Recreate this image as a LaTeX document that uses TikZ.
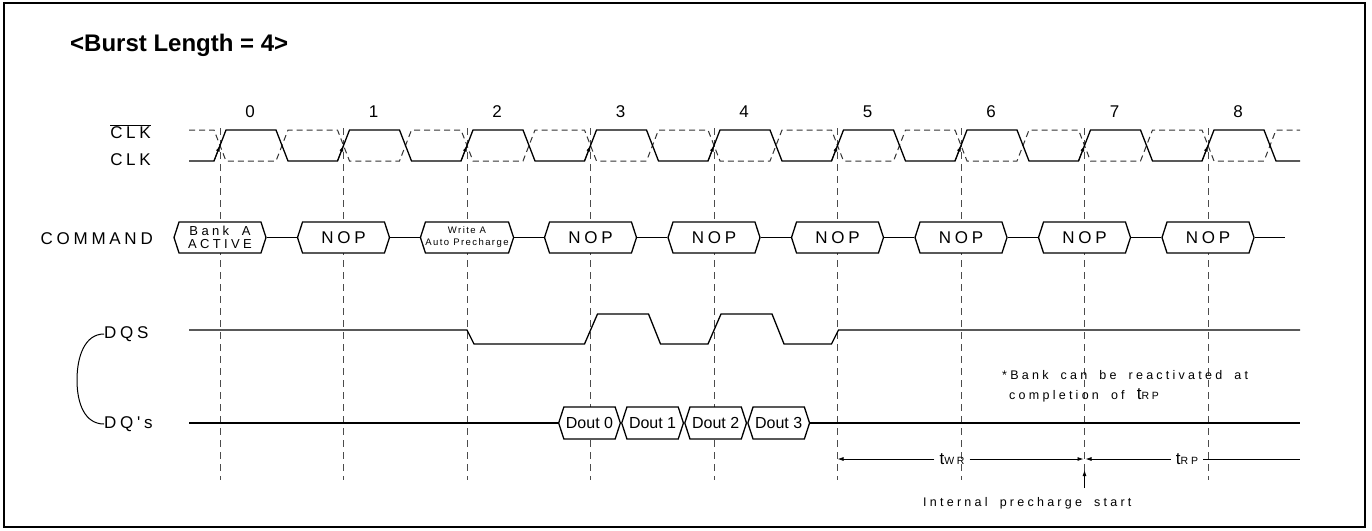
\documentclass[tikz,border=0pt]{standalone}
\usepackage{fontspec}
\setmainfont{Liberation Sans}
\newfontfamily\spaced[LetterSpace=22]{Liberation Sans}
\newfontfamily\spacedsm[LetterSpace=26,WordSpace=1.8]{Liberation Sans}
\newfontfamily\spacedxs[LetterSpace=15]{Liberation Sans}
\usetikzlibrary{arrows.meta,positioning,shapes.symbols}
\tikzset{
  sig/.style={line width=1.3pt, line join=miter},
  clkbar/.style={black!80, line width=1pt, dash pattern=on 6pt off 4pt},
  guide/.style={black!70, line width=0.9pt, dash pattern=on 7pt off 5pt},
  hexbox/.style={draw, fill=white, line width=1.3pt, signal, signal to=east and west,
    signal pointer angle=144, minimum height=31pt, minimum width=92pt, inner sep=0pt, align=center},
  doutbox/.style={hexbox, minimum width=61.7pt, minimum height=32pt, font=\fontsize{16}{16}\selectfont},
  tip/.style={-{Latex[length=6pt,width=4pt]}, line width=0.8pt},
  lbl/.style={font=\spaced\fontsize{17}{17}\selectfont, inner sep=0pt},
  note/.style={font=\spacedsm\fontsize{12.5}{13}\selectfont, inner sep=0pt, anchor=west},
}
\begin{document}
\begin{tikzpicture}[x=1pt,y=1pt,yscale=-1,xscale=1]
\path[use as bounding box] (0,0) rectangle (1372,530);
\draw[line width=1.3pt] (4,3) rectangle (1365,527);

\node[anchor=west, inner sep=0pt, font=\bfseries\fontsize{24}{27}\selectfont] (title) at (70,45) {<Burst Length = 4>};

% clock edges 0..8, period 123.5
\foreach \k in {0,...,8} \draw[guide] ({220+\k*123.5},128) -- ({220+\k*123.5},480);
\foreach \k in {0,...,8} \node[font=\fontsize{17}{17}\selectfont] (num\k) at ({250+\k*123.5},112) {\k};

\draw[clkbar] (189,130) \foreach \k in {0,...,8}{ -- ({214+\k*123.5},130) -- ({226+\k*123.5},161) -- ({276+\k*123.5},161) -- ({288+\k*123.5},130) } -- (1300,130);
\draw[sig] (189,161) \foreach \k in {0,...,8}{ -- ({214+\k*123.5},161) -- ({226+\k*123.5},130) -- ({276+\k*123.5},130) -- ({288+\k*123.5},161) } -- (1300,161);
\foreach \k in {0,...,8} \draw[tip] ({214+\k*123.5},161) -- ({220+\k*123.5},145.5);

\node[lbl, anchor=east] (clkb) at (151,132) {$\overline{\mbox{CLK}}$};
\node[lbl, anchor=east] (clk) at (151,160) {CLK};
\node[lbl, anchor=east] (cmd) at (153,239) {COMMAND};

% command row
\node[hexbox, font=\spacedsm\fontsize{13}{13}\selectfont] (c0) at (220,237.5) {Bank A\\ACTIVE};
\node[hexbox, font=\spaced\fontsize{17}{17}\selectfont] (c1) at (343.5,237.5) {NOP};
\node[hexbox, font=\spacedxs\fontsize{9.5}{12}\selectfont] (c2) at (467,237.5) {Write A\\Auto Precharge};
\node[hexbox, font=\spaced\fontsize{17}{17}\selectfont] (c3) at (590.5,237.5) {NOP};
\node[hexbox, font=\spaced\fontsize{17}{17}\selectfont] (c4) at (714,237.5) {NOP};
\node[hexbox, font=\spaced\fontsize{17}{17}\selectfont] (c5) at (837.5,237.5) {NOP};
\node[hexbox, font=\spaced\fontsize{17}{17}\selectfont] (c6) at (961,237.5) {NOP};
\node[hexbox, font=\spaced\fontsize{17}{17}\selectfont] (c7) at (1084.5,237.5) {NOP};
\node[hexbox, font=\spaced\fontsize{17}{17}\selectfont] (c8) at (1208,237.5) {NOP};
\coordinate (cend) at (1285,237.5);
\draw[sig] (c0.east) -- (c1.west);
\draw[sig] (c1.east) -- (c2.west);
\draw[sig] (c2.east) -- (c3.west);
\draw[sig] (c3.east) -- (c4.west);
\draw[sig] (c4.east) -- (c5.west);
\draw[sig] (c5.east) -- (c6.west);
\draw[sig] (c6.east) -- (c7.west);
\draw[sig] (c7.east) -- (c8.west);
\draw[sig] (c8.east) -- (cend);

% DQS and DQ's
\node[lbl, anchor=west] (dqs) at (104,334) {DQS};
\node[lbl, anchor=west] (dq) at (104,424) {DQ's};
\coordinate (brace) at (77,380);
\draw[line width=1pt] (dqs.west) .. controls (85,334) and (77,356) .. (brace) .. controls (77,404) and (85,424) .. (dq.west);

\draw[sig] (189,330) -- (467,330) -- (474,344) -- (584.5,344) -- (597.5,314) -- (648.5,314) -- (660.5,344)
  -- (708,344) -- (721,314) -- (772,314) -- (784,344) -- (831.5,344) -- (838.5,330) -- (1300,330);

\node[doutbox] (d0) at (589.5,423) {Dout 0};
\node[doutbox, right=0pt of d0] (d1) {Dout 1};
\node[doutbox, right=0pt of d1] (d2) {Dout 2};
\node[doutbox, right=0pt of d2] (d3) {Dout 3};
\coordinate (dqa) at (189,423);
\coordinate (dqb) at (1300,423);
\draw[sig] (dqa) -- (d0.west);
\draw[sig] (d3.east) -- (dqb);

% timing
\node[note] (note1) at (1002,375) {*Bank can be reactivated at};
\node[note] (note2) at (1009,395) {completion of {\fontsize{17}{17}\selectfont t}{\fontsize{10.5}{11}\selectfont RP}};

\coordinate (w0) at (837.5,459);
\coordinate (w1) at (1083.5,459);
\coordinate (p0) at (1085.5,459);
\coordinate (p1) at (1300,459);
\node[inner sep=5pt] (twr) at (952,459) {\fontsize{17}{17}\selectfont t\spacedsm\fontsize{10.5}{11}\selectfont WR};
\node[inner sep=5pt] (trp) at (1187,459) {\fontsize{17}{17}\selectfont t\spacedsm\fontsize{10.5}{11}\selectfont RP};
\draw[tip] (twr.west) -- (w0);
\draw[tip] (twr.east) -- (w1);
\draw[tip] (trp.west) -- (p0);
\draw[line width=0.8pt] (trp.east) -- (p1);

\coordinate (ipc) at (1084.5,488);
\coordinate (ipctop) at (1084.5,470);
\draw[tip] (ipc) -- (ipctop);
\node[note] (ipnote) at (923,503) {Internal precharge start};
\end{tikzpicture}
\end{document}
